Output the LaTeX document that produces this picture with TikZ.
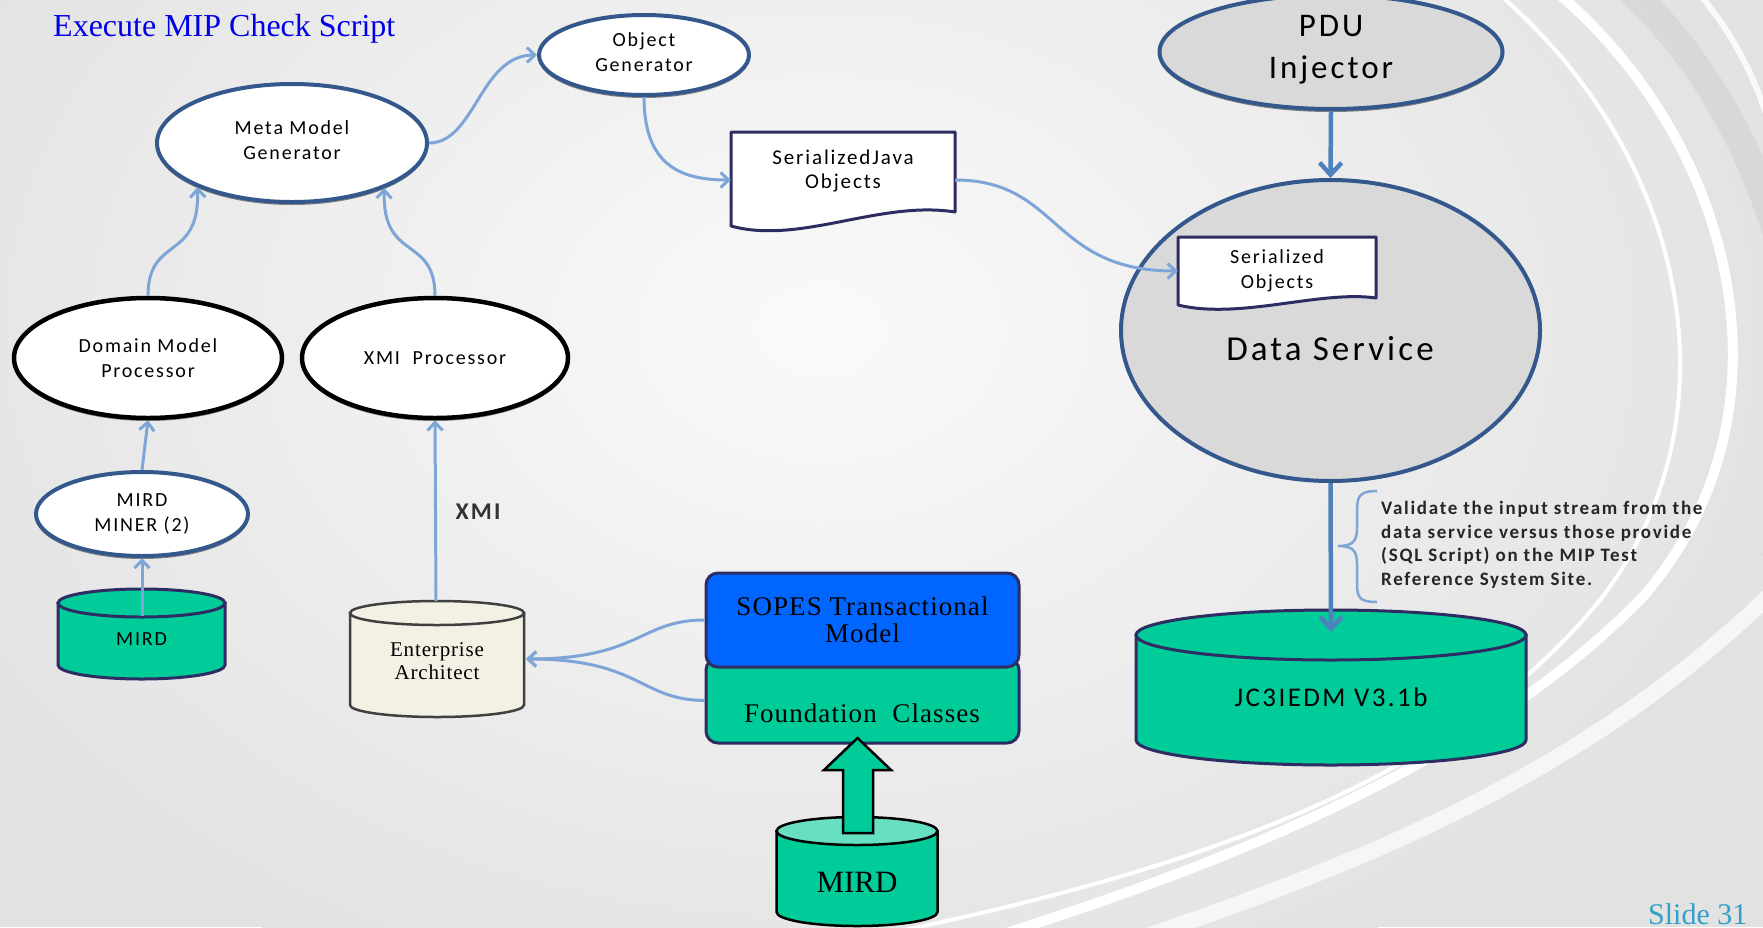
\documentclass[tikz,border=0pt]{standalone}
\usepackage{fontspec}
\setmainfont{Liberation Serif}
\newfontfamily\sansLS[LetterSpace=9]{Carlito}
\newfontfamily\serifLS[LetterSpace=4]{Liberation Serif}
\usetikzlibrary{arrows.meta,shapes.geometric,shadows}
\definecolor{cNavy}{RGB}{52,88,140}
\definecolor{cDoc}{RGB}{45,45,100}
\definecolor{cLink}{RGB}{125,165,215}
\definecolor{cPdu}{RGB}{79,129,189}
\definecolor{cGray}{RGB}{217,217,217}
\definecolor{cGreen}{RGB}{0,204,153}
\definecolor{cGreenL}{RGB}{102,224,192}
\definecolor{cBlue}{RGB}{0,102,255}
\definecolor{cBeige}{RGB}{243,240,228}
\definecolor{cTitle}{RGB}{0,0,230}
\definecolor{cSlide}{RGB}{50,160,200}
\definecolor{bgOut}{RGB}{226,226,226}
\definecolor{bgIn}{RGB}{250,250,250}
\definecolor{cBand}{RGB}{210,210,210}
% cylinder: cx, top, bottom, rx, ry, style, top fill
\newcommand{\dbcyl}[7]{%
  \path[#6] ({#1-#4},{#2+#5}) -- ({#1-#4},{#3-#5}) arc[start angle=180,end angle=360,x radius=#4pt,y radius=#5pt] -- ({#1+#4},{#2+#5}) -- cycle;
  \path[#6,fill=#7] (#1,{#2+#5}) ellipse[x radius=#4pt,y radius=#5pt];}
\begin{document}
\begin{tikzpicture}[x=1pt,y=-1pt,
  shad/.style={drop shadow={shadow xshift=0pt, shadow yshift=-3pt, fill=black!60, opacity=0.8}},
  ellN/.style={ellipse, draw=cNavy, line width=4pt, fill=white, inner sep=0pt, align=center, shad},
  ellK/.style={ellipse, draw=black, line width=4.5pt, fill=white, inner sep=0pt, align=center, shad},
  fs/.style={font=\sansLS\fontsize{20}{24.5}\selectfont},
  conn/.style={draw=cLink, line width=3pt, -{Straight Barb[length=8pt,width=15pt]}},
  bigconn/.style={draw=cPdu, line width=4.5pt, -{Straight Barb[length=12pt,width=22pt]}},
  docst/.style={fill=white, draw=cDoc, line width=3pt, line join=round},
  boxst/.style={draw=cDoc, line width=3pt, rounded corners=12pt},
  txt/.style={inner sep=0pt, align=center}
]
\useasboundingbox (0,0) rectangle (1763,927);
\clip (0,0) rectangle (1763,927);
% background
\fill[bgOut] (0,0) rectangle (1763,927);
\shade[inner color=bgIn, outer color=bgOut] (820,330) ellipse[x radius=1000pt, y radius=720pt];
% swooshes
\draw[cBand, line width=28pt, opacity=0.6] (1630,-10) .. controls (1790,140) and (1840,400) .. (1775,560);
\draw[white, line width=10pt] (1560,-5) .. controls (1740,150) and (1800,420) .. (1640,600) .. controls (1500,740) and (1300,840) .. (1000,935);
\draw[white, line width=4pt] (1500,-5) .. controls (1690,160) and (1740,420) .. (1600,600) .. controls (1470,760) and (1250,860) .. (880,935);
\draw[white, line width=16pt, opacity=0.7] (1775,590) .. controls (1600,760) and (1400,850) .. (1150,935);
\draw[white, line width=6pt, opacity=0.8] (1700,-5) .. controls (1790,100) and (1800,250) .. (1775,330);

% title
\node[anchor=west, inner sep=0pt, font=\fontsize{32}{38}\selectfont, text=cTitle] (title) at (53,29) {Execute MIP Check Script};

% ellipses (left)
\node[ellN, minimum width=210pt, minimum height=80pt] (og) at (644,55) {};
\node[txt, fs] (ogtxt) at (644,52) {Object\\Generator};
\node[ellN, minimum width=270pt, minimum height=118pt] (mmg) at (292,143) {};
\node[txt, fs] (mmgtxt) at (292,140) {Meta Model\\Generator};
\node[ellK, fs, minimum width=268pt, minimum height=120pt] (dmp) at (148,358) {Domain Model\\Processor};
\node[ellK, fs, minimum width=266pt, minimum height=120pt] (xmi) at (435,358) {XMI\ \ Processor};
\node[ellN, fs, minimum width=212pt, minimum height=84pt] (miner) at (142,514) {MIRD\\MINER (2)};

% cylinders
\dbcyl{141.5}{589}{679}{83.5}{14}{fill=cGreen,draw=cDoc,line width=3pt}{cGreen}
\node[txt, fs] (mird1) at (141.5,639) {MIRD};
\coordinate (mirdA) at (142,616);

\dbcyl{437}{601}{717}{87}{12}{fill=cBeige,draw=black!75,line width=2.5pt}{cBeige}
\node[txt, font=\serifLS\fontsize{21}{22.5}\selectfont] (ea) at (437,661) {Enterprise\\Architect};
\coordinate (eaTop) at (436,601);
\coordinate (eaR) at (526,659);

\dbcyl{1331}{610}{765}{195}{25}{fill=cGreen,draw=cDoc,line width=3pt}{cGreen}
\node[txt, font=\sansLS\fontsize{27}{32}\selectfont] (jc3) at (1331,697) {JC3IEDM V3.1b};
\coordinate (jc3top) at (1331,632);

\dbcyl{857}{817}{926}{80.5}{14}{fill=cGreen,draw=black,line width=2.5pt}{cGreenL}
\node[txt, font=\fontsize{31}{36}\selectfont] (mird2) at (857,882) {MIRD};

% SOPES / Foundation boxes
\node[boxst, fill=cGreen, minimum width=313pt, minimum height=85pt, inner sep=0pt] (fnd) at (862.5,700.5) {};
\node[txt, font=\serifLS\fontsize{27}{30}\selectfont] (fndtxt) at (862,713) {Foundation\ \ Classes};
\node[boxst, fill=cBlue, minimum width=313pt, minimum height=94pt, inner sep=0pt, align=center, font=\serifLS\fontsize{27}{27}\selectfont] (sopes) at (862.5,620) {SOPES Transactional\\Model};

% block arrow MIRD -> Foundation
\filldraw[fill=cGreen, draw=black, line width=2.5pt, line join=miter] (843,833) -- (843,770) -- (824,770) -- (857.5,738) -- (891,770) -- (873,770) -- (873,833) -- cycle;

% Serialized Java Objects document
\node[inner sep=0pt, minimum width=224pt, minimum height=96pt] (sjo) at (843,180) {};
\filldraw[docst] (731,132) -- (955,132) -- (955,212) .. controls (880,200) and (800,245) .. (731,226) -- cycle;
\node[txt, font=\sansLS\fontsize{21}{24.5}\selectfont] (sjotxt) at (843,171) {SerializedJava\\Objects};

% PDU injector and Data Service
\node[ellipse, draw=cNavy, line width=4pt, fill=cGray, minimum width=343pt, minimum height=114pt, inner sep=0pt, shad] (pdu) at (1331,52) {};
\node[txt, font=\sansLS\fontsize{33}{42}\selectfont] (pdutxt) at (1331,50) {PDU\\Injector};
\node[ellipse, draw=cNavy, line width=4pt, fill=cGray, minimum width=419pt, minimum height=301pt, inner sep=0pt] (ds) at (1330.5,330.5) {};
\node[txt, font=\sansLS\fontsize{35}{42}\selectfont] (dstxt) at (1330,349) {Data Service};

% Serialized Objects document
\node[inner sep=0pt, minimum width=198pt, minimum height=68pt] (so) at (1277,271) {};
\filldraw[docst] (1178,237) -- (1376,237) -- (1376,298) .. controls (1320,290) and (1240,320) .. (1178,305) -- cycle;
\node[txt, fs] (sotxt) at (1277,271) {Serialized\\Objects};

% labels
\node[font=\sansLS\bfseries\fontsize{24}{28}\selectfont, text=black!80, inner sep=0pt] (xmilbl) at (478,512) {XMI};
\node[anchor=west, align=left, inner sep=0pt, font=\sansLS\bfseries\fontsize{19}{23.5}\selectfont, text=black!85] (val) at (1381,545) {Validate the input stream from the\\data service versus those provide\\(SQL Script) on the MIP Test\\Reference System Site.};
\draw[cLink, line width=2.5pt] (1377,491) .. controls (1357,491) and (1357,498) .. (1357,515) -- (1357,528) .. controls (1357,542) and (1352,546) .. (1338,546) .. controls (1352,546) and (1357,550) .. (1357,564) -- (1357,580) .. controls (1357,596) and (1357,602) .. (1377,602);

\node[anchor=base west, inner sep=0pt, font=\fontsize{30}{36}\selectfont, text=cSlide] (slide) at (1648,924) {Slide 31};

% connectors
\draw[conn] (dmp.north) .. controls (148,235) and (200,262) .. (mmg.205);
\draw[conn] (xmi.north) .. controls (435,235) and (382,262) .. (mmg.334);
\draw[conn] (mmg.east) .. controls (475,143) and (480,55) .. (og.west);
\draw[conn] (og.south) .. controls (644,165) and (680,180) .. (sjo.west);
\draw[conn] (sjo.east) .. controls (1060,180) and (1050,271) .. (so.west);
\draw[conn] (mirdA) -- (miner.south);
\draw[conn] (miner.north) -- (dmp.south);
\draw[conn] (eaTop) -- (xmi.south);
\draw[conn] (sopes.west) .. controls (640,620) and (640,659) .. (eaR);
\draw[conn] (fnd.west) .. controls (640,700) and (640,659) .. (eaR);
\draw[bigconn] (pdu.south) -- (ds.north);
\draw[bigconn] (ds.south) -- (jc3top);
\end{tikzpicture}
\end{document}
